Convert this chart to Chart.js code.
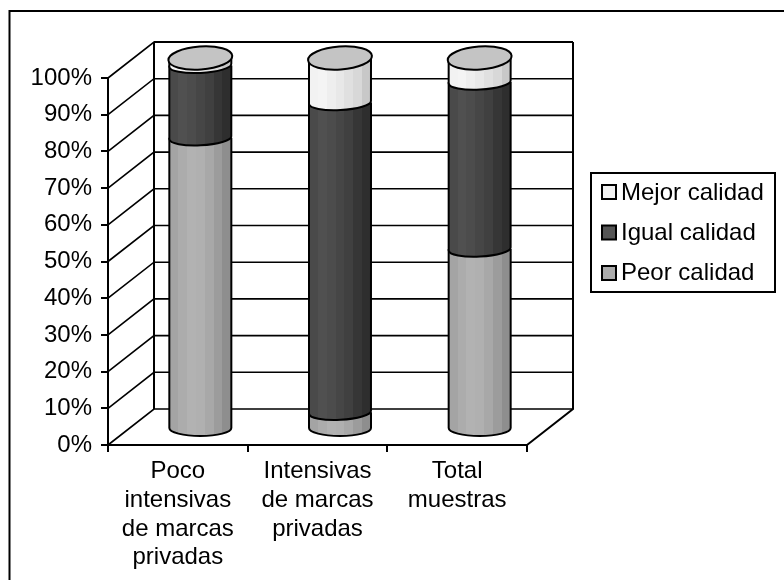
<!DOCTYPE html>
<html>
<head>
<meta charset="utf-8">
<style>
  html, body { margin: 0; padding: 0; background: #fff; }
  #wrap { position: relative; width: 784px; height: 580px; }
</style>
</head>
<body>
<div id="wrap"><canvas id="grafica" width="784" height="580"></canvas></div>
<script src="https://cdn.jsdelivr.net/npm/chart.js@4/dist/chart.umd.js"></script>
<script>
// Datos
const categorias = [["Poco", "intensivas", "de marcas", "privadas"], ["Intensivas", "de marcas", "privadas"], ["Total", "muestras"]];
const peorCalidad = [78.5, 4.5, 48.5];
const igualCalidad = [19.5, 83.5, 45];
const mejorCalidad = [2, 12, 6.5];

const FUENTE = "'Liberation Sans', Arial, sans-serif";
const NEGRO = "#000";
// profundidad de la caja 3D
const DX = 46, DY = -36;
const RX = 31, RY = 11.5, ARCO = 7.5;

// bandas verticales del cilindro, de izquierda a derecha
const BANDAS = {
  "Peor calidad": ["#a4a4a4", "#acacac", "#b2b2b2", "#b0b0b0", "#a8a8a8", "#9c9c9c", "#8e8e8e"],
  "Igual calidad": ["#4a4a4a", "#505050", "#4c4c4c", "#464646", "#404040", "#363636", "#2e2e2e"],
  "Mejor calidad": ["#f2f2f2", "#f4f4f4", "#eeeeee", "#e8e8e8", "#e0e0e0", "#d8d8d8", "#c8c8c8"]
};

function degradado(ctx, x0, x1, colores) {
  var g = ctx.createLinearGradient(x0, 0, x1, 0);
  colores.forEach(function(c, i) {
    g.addColorStop(i / colores.length, c);
    g.addColorStop((i + 1) / colores.length, c);
  });
  return g;
}

// el cilindro va a media profundidad y algo mas estirado que el eje frontal
function yCilindro(chart, p) {
  var base = chart.scales.y.getPixelForValue(0);
  return base - 16 - (base - p) * 371 / 367;
}

const caja3d = {
  id: "caja3d",
  beforeDatasetsDraw: function(chart) {
    var ctx = chart.ctx, y = chart.scales.y, x = chart.scales.x;
    var l = x.left, r = x.right;
    ctx.save();
    ctx.strokeStyle = NEGRO;
    ctx.lineWidth = 1.6;
    y.ticks.forEach(function(t) {
      var py = y.getPixelForValue(t.value);
      ctx.beginPath();
      ctx.moveTo(l, py);
      ctx.lineTo(l + DX, py + DY);
      ctx.lineTo(r + DX, py + DY);
      ctx.stroke();
    });
    var top = y.getPixelForValue(100), base = y.getPixelForValue(0);
    ctx.lineWidth = 2;
    ctx.beginPath();
    ctx.moveTo(l + DX, top + DY); ctx.lineTo(r + DX, top + DY);
    ctx.moveTo(l + DX, top + DY); ctx.lineTo(l + DX, base + DY);
    ctx.moveTo(r + DX, top + DY); ctx.lineTo(r + DX, base + DY);
    ctx.lineTo(r, base);
    ctx.stroke();

    // cilindros, desde los elementos de barra de cada serie.
    // De abajo arriba: cada tramo tapa con su arco el borde del anterior
    var n = chart.data.labels.length;
    for (var c = 0; c < n; c++) {
      var cx = 0, yTop = 0;
      chart.data.datasets.forEach(function(ds, d) {
        var el = chart.getDatasetMeta(d).data[c];
        cx = el.x + DX / 2 - 0.5;
        yTop = yCilindro(chart, el.y);
        var yBase = yCilindro(chart, el.base);
        ctx.beginPath();
        ctx.moveTo(cx - RX, yTop);
        ctx.lineTo(cx - RX, yBase);
        ctx.ellipse(cx, yBase, RX, d === 0 ? RY - 3.5 : ARCO, d === 0 ? 0 : -0.05, Math.PI, 0, true);
        ctx.lineTo(cx + RX, yTop);
        ctx.fillStyle = degradado(ctx, cx - RX, cx + RX, BANDAS[ds.label]);
        ctx.fill();
        ctx.lineWidth = 2;
        ctx.stroke();
      });
      // tapa
      ctx.beginPath();
      ctx.ellipse(cx, yTop, RX + 1, RY, -0.07, 0, Math.PI * 2);
      ctx.fillStyle = "#c4c4c4";
      ctx.fill();
      ctx.lineWidth = 2;
      ctx.stroke();
    }
    ctx.restore();
    return false; // las barras planas no se pintan
  },
  afterLayout: function(chart) {
    var lg = chart.legend;
    lg.left = 585; lg.right = 776; lg.top = 165; lg.bottom = 340;
    lg.width = 191; lg.height = 175;
  },
  afterDraw: function(chart) {
    var ctx = chart.ctx, lg = chart.legend;
    ctx.save();
    ctx.strokeStyle = NEGRO;
    ctx.lineWidth = 2;
    ctx.strokeRect(591, 173, 184, 119);
    // cajitas de la leyenda, mas pegadas al texto que las de la libreria
    lg.legendItems.forEach(function(it, i) {
      ctx.fillStyle = it.cajaColor;
      ctx.fillRect(602, 185 + i * 40.5, 14, 14);
      ctx.strokeRect(602, 185 + i * 40.5, 14, 14);
    });
    // marco del grafico
    ctx.beginPath();
    ctx.moveTo(9.5, 580);
    ctx.lineTo(9.5, 11);
    ctx.lineTo(784, 11);
    ctx.stroke();
    ctx.restore();
  }
};

new Chart(document.getElementById("grafica"), {
  type: "bar",
  data: {
    labels: categorias,
    datasets: [
      { label: "Peor calidad", data: peorCalidad, backgroundColor: "#ababab", borderColor: NEGRO, borderWidth: 2 },
      { label: "Igual calidad", data: igualCalidad, backgroundColor: "#555555", borderColor: NEGRO, borderWidth: 2 },
      { label: "Mejor calidad", data: mejorCalidad, backgroundColor: "#f2f2f2", borderColor: NEGRO, borderWidth: 2 }
    ]
  },
  options: {
    responsive: false,
    animation: false,
    layout: { padding: { top: 78, right: 157, bottom: 0, left: 0 } },
    datasets: { bar: { barThickness: 62 } },
    plugins: {
      tooltip: { enabled: false },
      legend: {
        position: "right",
        reverse: true,
        align: "start",
        maxWidth: 100,
        labels: {
          color: NEGRO,
          boxWidth: 8,
          boxHeight: 14,
          padding: 16,
          font: { family: FUENTE, size: 24 },
          generateLabels: function(chart) {
            return Chart.defaults.plugins.legend.labels.generateLabels(chart).map(function(it) {
              it.cajaColor = it.fillStyle;
              it.fillStyle = "rgba(0,0,0,0)";
              it.lineWidth = 0;
              return it;
            });
          }
        }
      }
    },
    scales: {
      x: {
        stacked: true,
        afterFit: function(s) { s.height = 135; },
        border: { color: NEGRO, width: 2 },
        grid: { drawOnChartArea: false, color: NEGRO, lineWidth: 2, tickLength: 7 },
        ticks: { color: NEGRO, padding: 5, maxRotation: 0, autoSkip: false, font: { family: FUENTE, size: 24 } }
      },
      y: {
        stacked: true,
        min: 0,
        max: 100,
        afterFit: function(s) { s.width = 108; },
        border: { color: NEGRO, width: 2 },
        grid: { drawOnChartArea: false, color: NEGRO, lineWidth: 2, tickLength: 7 },
        ticks: {
          stepSize: 10,
          color: NEGRO,
          padding: 9,
          font: { family: FUENTE, size: 24 },
          callback: function(v) { return v + "%"; }
        }
      }
    }
  },
  plugins: [caja3d]
});
</script>
</body>
</html>
